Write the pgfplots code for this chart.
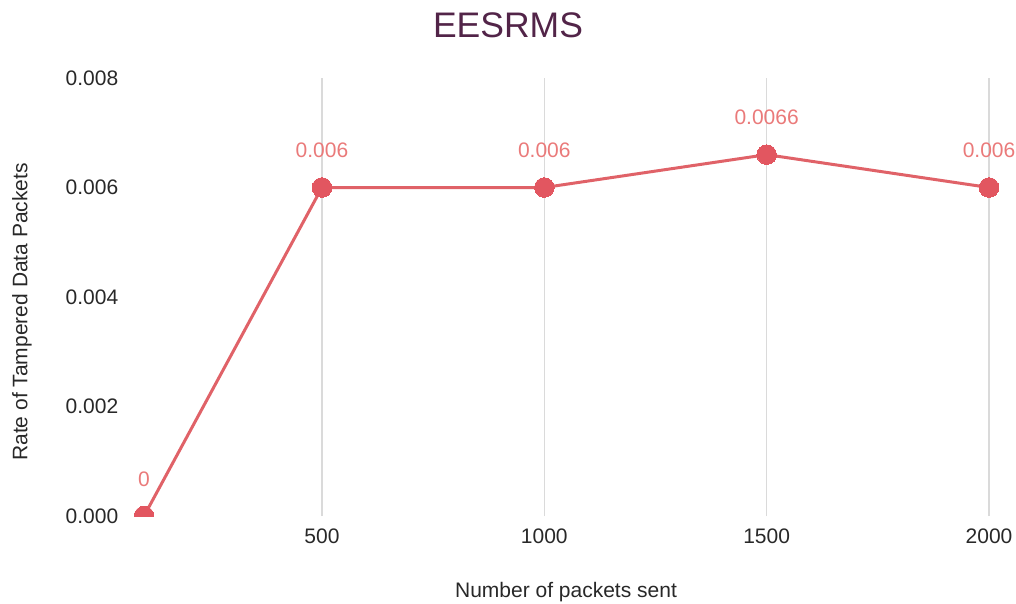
\documentclass[border=0pt]{standalone}
\usepackage{fontspec}
\setmainfont{Liberation Sans}
\usepackage{pgfplots}
\pgfplotsset{compat=1.18}

\definecolor{titlecol}{RGB}{82,36,72}
\definecolor{linecol}{RGB}{224,98,104}
\definecolor{markcol}{RGB}{226,86,96}
\definecolor{labelcol}{RGB}{234,122,122}
\definecolor{gridcol}{RGB}{218,218,218}
\definecolor{textcol}{RGB}{40,40,40}

\begin{document}
\begin{tikzpicture}
\useasboundingbox (0pt,0pt) rectangle (1016pt,603pt);
\begin{axis}[
  scale only axis,
  width=911.7pt, height=438pt,
  at={(121.8pt,87pt)}, anchor=south west,
  xmin=50, xmax=2100,
  ymin=0, ymax=0.008,
  scaled y ticks=false,
  xtick={500,1000,1500,2000},
  xticklabels={500,1000,1500,2000},
  ytick={0,0.002,0.004,0.006,0.008},
  yticklabels={0.000,0.002,0.004,0.006,0.008},
  /pgf/number format/assume math mode=true,
  axis line style={draw=none},
  tick style={draw=none},
  xmajorgrids=true,
  grid style={gridcol, line width=1.3pt},
  tick label style={font=\fontsize{21}{25}\selectfont, text=textcol},
  xticklabel style={yshift=-9pt},
  label style={font=\fontsize{21}{25}\selectfont, text=textcol},
  xlabel={Number of packets sent},
  xlabel style={at={(axis description cs:0.4872,-0.1872)}, anchor=base},
  ylabel={Rate of Tampered Data Packets},
  ylabel style={at={(axis description cs:-0.1094,0.466)}, anchor=center},
  title={EESRMS},
  title style={at={(axis description cs:0.4236,1.0799)}, anchor=base,
    font=\fontsize{35.5}{40}\selectfont, text=titlecol},
  clip marker paths=true,
]
\addplot[
  color=linecol, line width=3pt,
  mark=*, mark size=9.8pt,
  mark options={fill=markcol, draw=markcol, line width=0pt},
  point meta=explicit symbolic,
  nodes near coords,
  every node near coord/.append style={anchor=center, yshift=37pt,
    font=\fontsize{21}{25}\selectfont, text=labelcol},
] coordinates {
  (100,0) [0]
  (500,0.006) [0.006]
  (1000,0.006) [0.006]
  (1500,0.0066) [0.0066]
  (2000,0.006) [0.006]
};
\end{axis}
\end{tikzpicture}
\end{document}
